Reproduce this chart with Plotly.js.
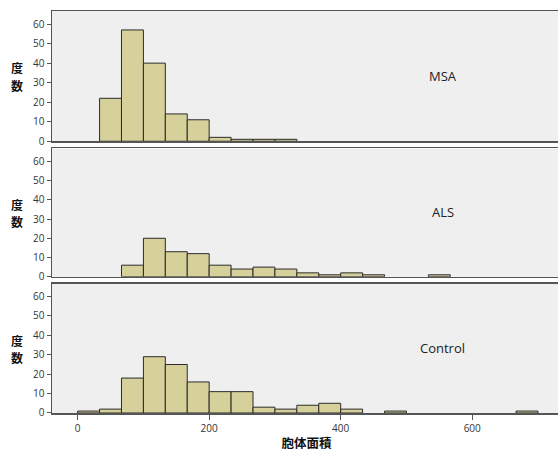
<!DOCTYPE html>
<html>
<head>
<meta charset="utf-8">
<script src="https://cdn.plot.ly/plotly-3.0.1.min.js"></script>
<style>html,body{margin:0;padding:0;background:#fff;overflow:hidden;}#wrap{width:558px;height:452px;overflow:hidden;}#chart{width:561px;height:452px;}</style>
</head>
<body>
<div id="wrap"><div id="chart"></div></div>
<script>
// Bin lower edges (bin width = 100/3)
var binStart = [0, 33.33, 66.67, 100, 133.33, 166.67, 200, 233.33, 266.67, 300, 333.33, 366.67, 400, 433.33, 466.67, 500, 533.33, 566.67, 600, 633.33, 666.67];
var groups = ["MSA", "ALS", "Control"];
var countsMSA     = [0, 22, 57, 40, 14, 11, 2, 1, 1, 1, 0, 0, 0, 0, 0, 0, 0, 0, 0, 0, 0];
var countsALS     = [0, 0, 6, 20, 13, 12, 6, 4, 5, 4, 2, 1, 2, 1, 0, 0, 1, 0, 0, 0, 0];
var countsControl = [1, 2, 18, 29, 25, 16, 11, 11, 3, 2, 4, 5, 2, 0, 1, 0, 0, 0, 0, 0, 1];
var yTicks = [0, 10, 20, 30, 40, 50, 60];
var xTicks = [0, 200, 400, 600];
var yLabelChars = ["度", "数"];
var xLabel = "胞体面積";

var binW = 100 / 3;
var allCounts = [countsMSA, countsALS, countsControl];
var barColor = "#D6D19A";
var lineColor = "#2b2b2b";
var axisColor = "#555555";
var font = {family: "Open Sans, DejaVu Sans, sans-serif", size: 10, color: "#333"};
var cjkFont = {family: "Noto Sans CJK JP, sans-serif", size: 12.5, color: "#111", weight: "bold"};
var yTitleFont = {family: "Noto Sans CJK JP, sans-serif", size: 12, color: "#111", weight: "bold"};

var domains = [[0.676, 1.0], [0.339, 0.658], [0.0, 0.322]];
var xRange = [-39, 735];
var yRange = [0, 66.7];
var yLabelPos = [37.6, 28.6];

var traces = [];
var layout = {
  width: 561, height: 452,
  margin: {l: 52, r: 0, t: 11, b: 39},
  paper_bgcolor: "#ffffff",
  showlegend: false,
  bargap: 0,
  font: font,
  annotations: [],
  shapes: []
};

for (var g = 0; g < 3; g++) {
  var xs = [], ys = [];
  for (var i = 0; i < binStart.length; i++) {
    if (allCounts[g][i] > 0) {
      xs.push(binStart[i] + binW / 2);
      ys.push(allCounts[g][i]);
    }
  }
  var sfx = g === 0 ? "" : String(g + 1);
  traces.push({
    type: "bar", x: xs, y: ys, width: binW,
    xaxis: "x" + sfx, yaxis: "y" + sfx,
    marker: {color: barColor, line: {color: lineColor, width: 1}},
    hoverinfo: "x+y"
  });
  var isBottom = (g === 2);
  layout["xaxis" + sfx] = {
    domain: [0, 1], anchor: "y" + sfx, range: xRange,
    showgrid: false, zeroline: false,
    showline: true, linecolor: axisColor, linewidth: 1.5, mirror: true,
    tickmode: "array", tickvals: xTicks,
    ticks: isBottom ? "outside" : "", ticklen: 5, tickcolor: axisColor,
    showticklabels: isBottom, tickfont: font,
    title: isBottom ? {text: xLabel, font: cjkFont, standoff: 5} : {text: ""}
  };
  layout["yaxis" + sfx] = {
    domain: domains[g], anchor: "x" + sfx, range: yRange,
    showgrid: false, zeroline: false,
    showline: true, linecolor: axisColor, linewidth: 1.5,
    tickmode: "array", tickvals: yTicks,
    ticks: "outside", ticklen: 4, tickcolor: axisColor,
    tickfont: font
  };
  layout.shapes.push({
    type: "rect", xref: "x" + sfx + " domain", yref: "y" + sfx + " domain",
    x0: 0, x1: 1, y0: 0, y1: 1, fillcolor: "#EFEFEF", line: {width: 0}, layer: "below"
  });
  layout.annotations.push({
    text: groups[g], xref: "x" + sfx, yref: "y" + sfx, x: 555, y: 33.5,
    showarrow: false, xanchor: "center", yanchor: "middle",
    font: {family: "Open Sans, DejaVu Sans, sans-serif", size: 13, color: "#222"}
  });
  for (var c = 0; c < yLabelChars.length; c++) {
    layout.annotations.push({
      text: yLabelChars[c], xref: "paper", yref: "y" + sfx, x: -0.068, y: yLabelPos[c],
      showarrow: false, xanchor: "center", yanchor: "middle", borderpad: 0,
      font: yTitleFont
    });
  }
}

Plotly.newPlot("chart", traces, layout, {displayModeBar: false, staticPlot: true});
</script>
</body>
</html>
